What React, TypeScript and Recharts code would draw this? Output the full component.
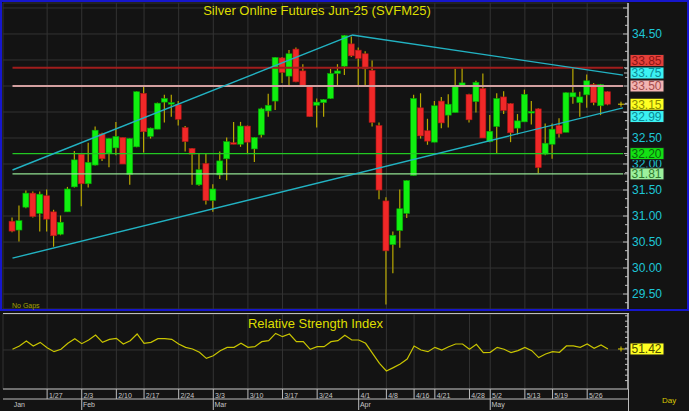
import React from 'react';
import { Bar, CartesianGrid, ComposedChart, Line, ReferenceLine, XAxis, YAxis } from 'recharts';

// daily OHLC (Jan 17 .. end of May)
const opens = [
  30.9, 30.73, 31.17, 31.44, 31.05, 31.39, 31.08, 30.65, 31.08, 31.56, 32.19, 31.62, 31.98, 32.58, 32.21, 32.31, 32.51, 31.8, 32.33, 33.36,
  32.53, 32.67, 33.19, 33.15, 33.14, 32.7, 32.3, 31.6, 32.01, 31.3, 31.79, 32.1, 32.41, 32.38, 32.73, 32.29, 32.56, 33.02, 33.21, 34.04,
  33.69, 34.21, 33.79, 33.49, 33.13, 33.18, 33.26, 33.74, 33.88, 34.31, 34.19, 34.12, 33.8, 32.74, 31.29, 30.45, 30.72, 31.05, 31.78, 33.08,
  32.64, 32.42, 33.21, 32.94, 32.99, 33.5, 33.34, 33.2, 33.45, 32.43, 32.72, 33.29, 33.16, 32.69, 32.81, 32.98, 33.06, 32.19, 32.38, 32.74,
  32.61, 33.29, 33.18, 33.33, 33.53, 33.12, 33.39,
];
const highs = [
  30.97, 31.2, 31.49, 31.47, 31.47, 31.51, 31.12, 31.01, 31.56, 32.25, 32.2, 32.41, 32.72, 32.6, 32.5, 32.81, 32.51, 32.5, 33.4, 33.5,
  32.7, 33.18, 33.33, 33.33, 33.21, 32.73, 32.31, 32.21, 32.21, 31.61, 32.24, 32.51, 32.81, 32.81, 32.74, 32.52, 33.08, 33.35, 34.06, 34.06,
  34.19, 34.24, 33.92, 33.5, 33.26, 33.25, 33.83, 33.92, 34.48, 34.45, 34.24, 34.17, 33.99, 32.8, 31.36, 30.7, 31.51, 31.69, 33.33, 33.36,
  32.87, 33.21, 33.29, 33.34, 33.83, 33.85, 33.35, 33.6, 33.74, 32.94, 33.36, 33.4, 33.17, 32.96, 33.43, 33.21, 33.07, 32.78, 32.78, 32.88,
  33.38, 33.85, 33.39, 33.72, 33.56, 33.54, 33.4,
];
const lows = [
  30.69, 30.51, 31.15, 30.97, 30.7, 30.7, 30.41, 30.63, 31.08, 31.55, 31.19, 31.55, 31.97, 32.06, 31.94, 32.17, 32.0, 31.6, 32.32, 32.22,
  32.49, 32.67, 32.8, 32.91, 32.74, 32.24, 31.6, 31.58, 31.22, 31.08, 31.71, 31.69, 32.38, 32.33, 32.19, 32.04, 32.51, 32.91, 33.04, 33.56,
  33.51, 33.57, 33.49, 32.91, 32.7, 32.91, 33.25, 33.51, 33.71, 34.06, 33.51, 33.51, 32.72, 31.32, 29.3, 29.9, 30.39, 30.96, 31.78, 32.49,
  32.37, 32.42, 32.69, 32.7, 32.99, 33.5, 32.8, 32.99, 32.5, 32.42, 32.2, 32.96, 32.42, 32.57, 32.81, 32.76, 31.82, 32.17, 32.1, 32.51,
  32.61, 33.16, 32.91, 33.08, 33.13, 32.94, 33.13,
];
const closes = [
  30.71, 30.91, 31.44, 30.99, 31.42, 30.94, 30.62, 30.88, 31.52, 32.08, 31.62, 32.03, 32.65, 32.1, 32.49, 32.53, 32.0, 32.49, 33.39, 32.62,
  32.69, 33.17, 33.26, 33.18, 32.86, 32.43, 32.19, 31.89, 31.3, 31.52, 32.06, 32.43, 32.38, 32.73, 32.42, 32.51, 33.06, 33.13, 34.05, 33.76,
  34.12, 33.58, 33.51, 32.91, 33.19, 33.24, 33.74, 33.79, 34.47, 34.08, 34.03, 33.83, 32.8, 31.5, 30.33, 30.63, 31.14, 31.68, 33.26, 32.54,
  32.44, 33.12, 32.79, 33.15, 33.49, 33.56, 32.85, 33.57, 32.5, 32.63, 33.26, 33.03, 32.6, 32.83, 33.34, 33.01, 31.93, 32.4, 32.67, 32.58,
  33.37, 33.37, 33.29, 33.6, 33.18, 33.53, 33.15,
];
const rsiValues = [
  51.0, 55.6, 62.5, 55.6, 60.6, 53.2, 47.7, 51.0, 59.3, 65.7, 58.8, 63.9, 70.8, 60.6, 64.8, 66.2, 58.3, 62.9, 72.2, 59.3,
  60.6, 65.7, 65.7, 64.8, 58.3, 53.7, 51.4, 46.8, 38.4, 42.1, 49.1, 53.7, 53.7, 59.3, 53.7, 54.6, 61.6, 62.9, 73.1, 68.5,
  72.2, 61.6, 61.6, 51.0, 54.6, 54.6, 61.6, 62.9, 70.5, 63.9, 63.9, 59.3, 45.4, 31.5, 20.8, 25.5, 30.6, 37.5, 55.6, 50.0,
  47.7, 53.7, 50.0, 54.6, 58.3, 58.3, 51.0, 57.9, 46.3, 46.8, 53.7, 51.0, 46.3, 49.1, 53.7, 49.1, 39.4, 44.4, 47.7, 46.8,
  55.6, 55.6, 53.7, 58.3, 52.3, 56.9, 51.42,
];

const weekTicks = [5, 10, 15, 19, 24, 29, 34, 39, 44, 50, 54, 58, 61, 66, 69, 74, 78, 83];
const weekLabels = ['1/27', '2/3', '2/10', '2/17', '2/24', '3/3', '3/10', '3/17', '3/24', '4/1', '4/8', '4/16', '4/21', '4/28', '5/2', '5/13', '5/19', '5/26'];
const monthTicks = [0, 10, 29, 50, 69];
const monthLabels = ['Jan', 'Feb', 'Mar', 'Apr', 'May'];

// drawn support / resistance levels and trend lines (bar index, price)
const levelValues = [33.85, 33.5, 32.2, 31.81];
const lowerTrend = [{ x: 0, y: 30.19 }, { x: 88.17, y: 33.08 }];
const upperTrend = [{ x: 0, y: 31.885 }, { x: 49.03, y: 34.48 }];
const topTrend = [{ x: 49.03, y: 34.48 }, { x: 88.17, y: 33.71 }];

const priceTags = [33.85, 33.75, 33.5, 33.15, 32.99, 32.2, 31.81];
const rsiTag = 51.42;

const candles = opens.map((o, i) => ({
  i,
  open: o,
  high: highs[i],
  low: lows[i],
  close: closes[i],
  rsi: rsiValues[i],
}));

const X_DOMAIN: [number, number] = [-1.372, 88.895];
const PRICE_DOMAIN: [number, number] = [29.212, 35.096];
const RSI_DOMAIN: [number, number] = [-4.17, 100];
const PX_PER_UNIT = 306 / (PRICE_DOMAIN[1] - PRICE_DOMAIN[0]);

const FONT = '"Liberation Sans", Arial, sans-serif';
const AXIS = '#bdbdbd';
const GRID = '#333333';
const levelColors = ['#a01d1c', '#d3a0a0', '#22c822', '#92e292'];
const TREND = '#22b2c2';

const tagStyle: Record<string, { bg: string; fg: string; dy?: number; mark?: boolean }> = {
  '33.85': { bg: '#e5403a', fg: '#8c1414', dy: -7.3 },
  '33.75': { bg: '#3cf2f2', fg: '#0b8a96' },
  '33.50': { bg: '#f3b4b2', fg: '#a44c4c' },
  '33.15': { bg: '#ffff22', fg: '#8c8c00', mark: true },
  '32.99': { bg: '#3cf2f2', fg: '#0b8a96', dy: 4 },
  '32.20': { bg: '#14e014', fg: '#0b660b' },
  '31.81': { bg: '#9cf09c', fg: '#2f7a2f' },
  '51.42': { bg: '#ffff22', fg: '#4a4a00', mark: true },
};

const sixths: number[] = [];
for (let k = 176; k <= 210; k++) sixths.push(k / 6);
const priceMinor = sixths.filter((v) => !priceTags.some((t) => Math.abs(t - v) < 1e-6));
const priceAxisTicks = [...priceMinor, ...priceTags];
const gridPrices: number[] = [];
for (let k = 59; k <= 70; k++) gridPrices.push(k / 2);

const rsiMinor: number[] = [];
for (let k = 1; k <= 13; k++) rsiMinor.push(k * 7.5);
const rsiAxisTicks = [...rsiMinor, rsiTag];

// an axis label is left out when a tag box sits right on top of it
const coveredByTag = (v: number) =>
  priceTags.some((t) => {
    const dy = tagStyle[t.toFixed(2)].dy ?? 0;
    return Math.abs((v - t) * PX_PER_UNIT + dy) < 6;
  });

function Candle(props: any) {
  const { x, y, width, height, payload } = props;
  if (!payload || x == null) return null;
  const top = Math.min(y, y + height);
  const h = Math.abs(height);
  const { open, close, high, low } = payload;
  const span = high - low || 1;
  const py = (v: number) => top + ((high - v) / span) * h;
  const cx = x + width / 2;
  const up = close >= open;
  const bTop = py(Math.max(open, close));
  const bh = Math.max(py(Math.min(open, close)) - bTop, 1.5);
  return (
    <g>
      <line x1={cx} x2={cx} y1={top} y2={top + h} stroke="#b8a800" strokeWidth={1.2} />
      <rect
        x={cx - 3}
        y={bTop}
        width={6}
        height={bh}
        fill={up ? '#10f010' : '#f02828'}
        stroke={up ? '#05a005' : '#a81616'}
        strokeWidth={0.6}
      />
    </g>
  );
}

function TagBox({ x, y, label }: { x: number; y: number; label: string }) {
  const s = tagStyle[label];
  const ty = y + (s.dy ?? 0);
  return (
    <g>
      <line x1={x - 4} x2={x} y1={y} y2={y} stroke={AXIS} />
      {s.mark && (
        <g stroke="#e0d000" strokeWidth={1}>
          <line x1={x - 10} x2={x - 4} y1={y} y2={y} />
          <line x1={x - 7} x2={x - 7} y1={y - 2.5} y2={y + 2.5} />
        </g>
      )}
      <rect x={x + 2} y={ty - 6} width={34} height={12} fill={s.bg} stroke="#1c1c1c" strokeWidth={1} />
      <text x={x + 3.5} y={ty + 4.4} fill={s.fg} fontSize={12} fontFamily={FONT}>
        {label}
      </text>
    </g>
  );
}

function PriceTick(props: any) {
  const { x, y, payload, index } = props;
  const v: number = payload.value;
  if (index >= priceMinor.length) return <TagBox x={x} y={y} label={v.toFixed(2)} />;
  const major = Math.abs(v * 2 - Math.round(v * 2)) < 1e-6;
  const showText = major && v >= 29.5 && v <= 34.5 && !coveredByTag(v);
  return (
    <g>
      <line x1={x - (major ? 5 : 3)} x2={x} y1={y} y2={y} stroke={AXIS} />
      {showText && (
        <text x={x + 4} y={y + 4.4} fill="#1ec6d6" fontSize={12} fontFamily={FONT}>
          {v.toFixed(2)}
        </text>
      )}
    </g>
  );
}

function RsiTick(props: any) {
  const { x, y, payload, index } = props;
  if (index >= rsiMinor.length) return <TagBox x={x} y={y} label={payload.value.toFixed(2)} />;
  return <line x1={x - 3} x2={x} y1={y} y2={y} stroke={AXIS} />;
}

function LeftTick(props: any) {
  const { x, y } = props;
  return <line x1={x} x2={x + 4} y1={y} y2={y} stroke={AXIS} />;
}

function WeekTick(props: any) {
  const { x, y, payload } = props;
  const k = weekTicks.indexOf(payload.value);
  return (
    <g>
      <line x1={x} x2={x} y1={y} y2={y + 10} stroke={AXIS} />
      <text x={x + 1.8} y={y + 8.6} fill="#c6c6c6" fontSize={7} fontFamily={FONT}>
        {weekLabels[k]}
      </text>
    </g>
  );
}

function MonthTick(props: any) {
  const { x, y, payload, index } = props;
  const k = monthTicks.indexOf(payload.value);
  return (
    <g>
      {index > 0 && <line x1={x} x2={x} y1={y} y2={y + 11} stroke={AXIS} />}
      <text x={x + 1.2} y={y + 7.8} fill="#c6c6c6" fontSize={7} fontFamily={FONT}>
        {monthLabels[k]}
      </text>
    </g>
  );
}

export default function App() {
  return (
    <div style={{ position: 'fixed', left: 0, top: 0, width: 689, height: 411, background: '#131313', overflow: 'hidden' }}>
      <div style={{ position: 'absolute', left: 0, top: 0 }}>
        <ComposedChart width={689} height={311} data={candles} margin={{ top: 3, right: 0, bottom: 2, left: 1 }}>
          <CartesianGrid yAxisId="g" stroke={GRID} />
          <XAxis dataKey="i" type="number" domain={X_DOMAIN} allowDataOverflow ticks={weekTicks} hide />
          <YAxis yAxisId="g" type="number" domain={PRICE_DOMAIN} allowDataOverflow ticks={gridPrices} hide />
          <YAxis
            yAxisId="l"
            orientation="left"
            width={2}
            type="number"
            domain={PRICE_DOMAIN}
            allowDataOverflow
            ticks={sixths}
            interval={0}
            tickLine={false}
            tickSize={0}
            tickMargin={0}
            axisLine={{ stroke: AXIS }}
            tick={LeftTick}
          />
          <YAxis
            yAxisId="p"
            orientation="right"
            width={61}
            type="number"
            domain={PRICE_DOMAIN}
            allowDataOverflow
            ticks={priceAxisTicks}
            interval={0}
            tickLine={false}
            tickSize={0}
            tickMargin={0}
            axisLine={{ stroke: '#c8c8c8', strokeWidth: 1.5 }}
            tick={PriceTick}
          />
          <Bar
            yAxisId="p"
            dataKey={(d: any) => [d.low, d.high]}
            barSize={6}
            shape={<Candle />}
            isAnimationActive={false}
          />
          {levelValues.map((v, k) => (
            <ReferenceLine
              key={v}
              yAxisId="p"
              segment={[{ x: 0, y: v }, { x: 88.2, y: v }]}
              stroke={levelColors[k]}
              strokeWidth={k < 2 ? 2 : 1.3}
              ifOverflow="visible"
            />
          ))}
          {[lowerTrend, upperTrend, topTrend].map((seg, k) => (
            <ReferenceLine key={k} yAxisId="p" segment={seg} stroke={TREND} strokeWidth={1.4} ifOverflow="visible" />
          ))}
        </ComposedChart>
      </div>

      <div style={{ position: 'absolute', left: 0, top: 311 }}>
        <ComposedChart width={689} height={100} data={candles} margin={{ top: 3, right: 0, bottom: 1, left: 1 }}>
          <CartesianGrid xAxisId="a" yAxisId="g" stroke={GRID} />
          <XAxis
            xAxisId="a"
            dataKey="i"
            type="number"
            domain={X_DOMAIN}
            allowDataOverflow
            ticks={weekTicks}
            interval={0}
            height={10}
            tickSize={0}
            tickMargin={0}
            tickLine={false}
            axisLine={{ stroke: AXIS }}
            tick={WeekTick}
          />
          <XAxis
            xAxisId="b"
            dataKey="i"
            type="number"
            domain={X_DOMAIN}
            allowDataOverflow
            ticks={monthTicks}
            interval={0}
            height={11}
            tickSize={0}
            tickMargin={0}
            tickLine={false}
            axisLine={{ stroke: AXIS }}
            tick={MonthTick}
          />
          <YAxis yAxisId="g" type="number" domain={RSI_DOMAIN} allowDataOverflow ticks={[50]} hide />
          <YAxis
            yAxisId="l"
            orientation="left"
            width={2}
            type="number"
            domain={RSI_DOMAIN}
            allowDataOverflow
            ticks={rsiMinor}
            interval={0}
            tickLine={false}
            tickSize={0}
            tickMargin={0}
            axisLine={{ stroke: AXIS }}
            tick={LeftTick}
          />
          <YAxis
            yAxisId="r"
            orientation="right"
            width={61}
            type="number"
            domain={RSI_DOMAIN}
            allowDataOverflow
            ticks={rsiAxisTicks}
            interval={0}
            tickLine={false}
            tickSize={0}
            tickMargin={0}
            axisLine={{ stroke: '#c8c8c8', strokeWidth: 1.5 }}
            tick={RsiTick}
          />
          <Line
            xAxisId="a"
            yAxisId="r"
            dataKey="rsi"
            type="linear"
            stroke="#c8c400"
            strokeWidth={1.2}
            dot={false}
            isAnimationActive={false}
          />
        </ComposedChart>
      </div>

      {/* panel chrome */}
      <div style={{ position: 'absolute', left: 3, top: 313, width: 626, height: 1, background: AXIS }} />
      <div style={{ position: 'absolute', left: 628, top: 389, width: 1, height: 22, background: AXIS }} />
      <div
        style={{
          position: 'absolute',
          left: 0,
          top: 0,
          width: 689,
          height: 311,
          border: '2px solid #1616cc',
          boxSizing: 'border-box',
          pointerEvents: 'none',
        }}
      />
      <svg width={689} height={411} style={{ position: 'absolute', left: 0, top: 0, pointerEvents: 'none' }}>
        <text x={317} y={15} textAnchor="middle" fill="#dede00" fontSize={13} fontFamily={FONT}>
          Silver Online Futures Jun-25 (SVFM25)
        </text>
        <text x={12} y={307.5} fill="#a3a300" fontSize={7} fontFamily={FONT}>
          No Gaps
        </text>
        <text x={315.5} y={327.5} textAnchor="middle" fill="#dede00" fontSize={13} fontFamily={FONT}>
          Relative Strength Index
        </text>
        <text x={662} y={403} fill="#d8c800" fontSize={8} fontFamily={FONT}>
          Day
        </text>
      </svg>
    </div>
  );
}
